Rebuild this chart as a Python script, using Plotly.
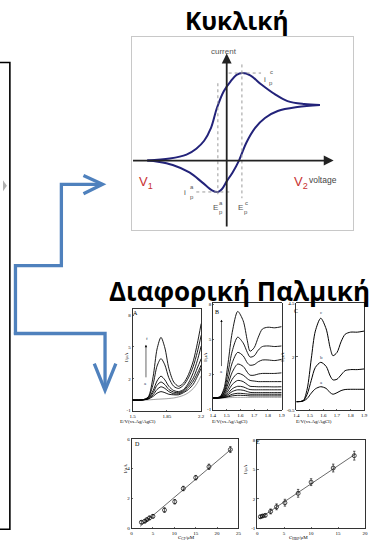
import plotly.graph_objects as go
import numpy as np

W, H = 372, 553

def px(x):
    return x / W

def py(y):
    return 1 - y / H

# ---------------- Cyclic voltammogram (arbitrary units) ----------------
cv_fwd_E = [-0.81, -0.58, -0.41, -0.31, -0.23, -0.16, -0.10, -0.03, 0.04, 0.10, 0.16, 0.24, 0.35, 0.49, 0.62, 0.79, 0.95]
cv_fwd_I = [0.00, 0.02, 0.06, 0.12, 0.20, 0.33, 0.53, 0.70, 0.80, 0.865, 0.883, 0.86, 0.77, 0.67, 0.60, 0.57, 0.56]
cv_rev_E = [0.95, 0.72, 0.52, 0.39, 0.29, 0.20, 0.125, 0.06, 0.00, -0.05, -0.09, -0.15, -0.25, -0.38, -0.55, -0.70, -0.81]
cv_rev_I = [0.56, 0.54, 0.50, 0.43, 0.33, 0.18, 0.00, -0.12, -0.21, -0.29, -0.317, -0.30, -0.22, -0.12, -0.045, -0.012, 0.00]
cv_Epa, cv_Epc = -0.09, 0.155
cv_ipa, cv_ipc = -0.317, 0.883

# ---------------- DPV panel A ----------------
A_E = [1.50, 1.60, 1.66, 1.71, 1.75, 1.79, 1.83, 1.87, 1.92, 1.97, 2.02, 2.07, 2.12, 2.16, 2.20]
A_f = [0, 0.02, 0.30, 2.2, 4.8, 5.9, 4.9, 3.0, 1.7, 1.3, 1.6, 2.4, 3.7, 5.3, 7.2]
A_e = [0, 0.02, 0.25, 1.5, 3.2, 3.9, 3.3, 2.1, 1.3, 1.1, 1.4, 2.1, 3.2, 4.5, 6.1]
A_d = [0, 0.02, 0.20, 0.9, 1.8, 2.25, 1.9, 1.3, 0.9, 0.8, 1.0, 1.6, 2.6, 3.7, 5.1]
A_c = [0, 0.02, 0.15, 0.7, 1.4, 1.7, 1.45, 1.0, 0.75, 0.7, 0.9, 1.4, 2.1, 3.0, 3.9]
A_b = [0, 0.02, 0.12, 0.5, 1.0, 1.25, 1.1, 0.8, 0.6, 0.6, 0.8, 1.2, 1.8, 2.5, 3.3]
A_a = [0, 0.02, 0.10, 0.35, 0.65, 0.8, 0.7, 0.55, 0.5, 0.5, 0.7, 1.0, 1.5, 2.2, 3.0]
A_blank = [0, 0, 0.02, 0.05, 0.08, 0.10, 0.12, 0.15, 0.2, 0.3, 0.45, 0.7, 1.1, 1.6, 2.3]

# ---------------- DPV panel B ----------------
B_E = [1.40, 1.45, 1.48, 1.51, 1.54, 1.58, 1.62, 1.65, 1.67, 1.70, 1.73, 1.76, 1.80, 1.85, 1.90]
B_1 = [0.0, 0.10, 0.8, 3.0, 5.6, 7.4, 6.6, 4.9, 4.0, 4.3, 5.2, 5.9, 6.05, 6.0, 6.1]
B_2 = [0.0, 0.08, 0.6, 2.2, 4.0, 5.2, 4.7, 3.9, 3.5, 3.6, 4.1, 4.4, 4.45, 4.4, 4.45]
B_3 = [0.0, 0.06, 0.45, 1.6, 3.0, 3.9, 3.6, 3.0, 2.8, 2.85, 3.1, 3.25, 3.25, 3.2, 3.3]
B_4 = [0.0, 0.05, 0.35, 1.2, 2.2, 2.9, 2.7, 2.2, 1.95, 1.95, 2.05, 2.1, 2.1, 2.1, 2.15]
B_5 = [0.0, 0.04, 0.25, 0.85, 1.6, 2.1, 1.95, 1.65, 1.5, 1.45, 1.4, 1.4, 1.4, 1.4, 1.4]
B_6 = [0.0, 0.03, 0.18, 0.6, 1.15, 1.5, 1.4, 1.15, 1.0, 0.98, 0.96, 0.96, 0.96, 0.95, 0.96]
B_7 = [0.0, 0.02, 0.12, 0.4, 0.78, 1.0, 0.95, 0.8, 0.72, 0.7, 0.7, 0.7, 0.7, 0.7, 0.7]
B_8 = [0.0, 0.02, 0.08, 0.28, 0.55, 0.7, 0.66, 0.55, 0.48, 0.46, 0.46, 0.46, 0.46, 0.46, 0.46]
B_9 = [0.0, 0.01, 0.05, 0.16, 0.32, 0.4, 0.38, 0.34, 0.32, 0.32, 0.32, 0.32, 0.32, 0.32, 0.32]
B_10 = [0.0, 0.01, 0.03, 0.10, 0.18, 0.23, 0.22, 0.20, 0.18, 0.18, 0.18, 0.18, 0.18, 0.18, 0.18]
B_blank = [0.0, 0.0, 0.01, 0.02, 0.04, 0.05, 0.05, 0.05, 0.05, 0.05, 0.05, 0.05, 0.05, 0.05, 0.05]

# ---------------- DPV panel C ----------------
C_E = B_E
C_c = [-0.1, -0.05, 0.5, 1.9, 3.2, 3.8, 3.3, 2.4, 2.05, 2.2, 2.7, 3.05, 3.15, 3.15, 3.2]
C_b = [-0.1, -0.06, 0.25, 0.9, 1.5, 1.74, 1.55, 1.1, 0.92, 0.95, 1.15, 1.35, 1.4, 1.4, 1.43]
C_a = [-0.1, -0.07, 0.05, 0.3, 0.5, 0.6, 0.52, 0.32, 0.25, 0.32, 0.42, 0.47, 0.48, 0.48, 0.48]

# ---------------- Calibration D ----------------
D_conc = [2.3, 3.1, 3.6, 4.2, 5.0, 7.7, 10.1, 12.1, 15.0, 18.1, 23.1]
D_I = [0.40, 0.47, 0.58, 0.69, 0.80, 1.22, 1.78, 2.67, 3.40, 4.13, 5.29]
D_err = [0.10, 0.10, 0.10, 0.12, 0.12, 0.15, 0.15, 0.15, 0.15, 0.18, 0.2]

# ---------------- Calibration E ----------------
E_conc = [0.6, 1.0, 1.5, 2.5, 3.6, 5.15, 7.6, 10.0, 14.1, 18.0]
E_I = [0.17, 0.24, 0.31, 0.71, 1.18, 1.6, 2.56, 3.7, 5.14, 6.4]
E_err = [0.15, 0.15, 0.15, 0.25, 0.3, 0.35, 0.4, 0.35, 0.4, 0.45]

fig = go.Figure()
NAVY = "#23237a"

# CV
fig.add_trace(go.Scatter(x=cv_fwd_E, y=cv_fwd_I, mode="lines", line=dict(color=NAVY, width=2, shape="spline"), xaxis="x", yaxis="y"))
fig.add_trace(go.Scatter(x=cv_rev_E, y=cv_rev_I, mode="lines", line=dict(color=NAVY, width=2, shape="spline"), xaxis="x", yaxis="y"))
dot = dict(color="#9a9a9a", width=1, dash="dot")
fig.add_trace(go.Scatter(x=[cv_Epa, cv_Epa], y=[0.78, -0.36], mode="lines", line=dot, xaxis="x", yaxis="y"))
fig.add_trace(go.Scatter(x=[cv_Epc, cv_Epc], y=[0.97, -0.38], mode="lines", line=dot, xaxis="x", yaxis="y"))
fig.add_trace(go.Scatter(x=[0.02, 0.35], y=[cv_ipc, cv_ipc], mode="lines", line=dot, xaxis="x", yaxis="y"))
fig.add_trace(go.Scatter(x=[-0.31, 0.03], y=[cv_ipa, cv_ipa], mode="lines", line=dot, xaxis="x", yaxis="y"))

def lines(xs, ys_list, ax, color="black", width=0.9):
    for ys in ys_list:
        fig.add_trace(go.Scatter(x=xs, y=ys, mode="lines", line=dict(color=color, width=width, shape="spline", smoothing=0.8),
                                 xaxis="x" + ax, yaxis="y" + ax))

lines(A_E, [A_blank], "2", color="#777", width=0.7)
lines(A_E, [A_a, A_b, A_c, A_d, A_e, A_f], "2")
lines(B_E, [B_blank], "3", color="#888", width=0.7)
lines(B_E, [B_10, B_9, B_8, B_7, B_6, B_5, B_4, B_3, B_2, B_1], "3")
lines(C_E, [C_a, C_b, C_c], "4", width=1.0)

for xs, ys, err, ax in [(D_conc, D_I, D_err, "5"), (E_conc, E_I, E_err, "6")]:
    k, b = np.polyfit(xs, ys, 1)
    fx = [min(xs) - 0.3, max(xs) + 0.2]
    fig.add_trace(go.Scatter(x=fx, y=[k * v + b for v in fx], mode="lines", line=dict(color="#444", width=0.8),
                             xaxis="x" + ax, yaxis="y" + ax))
    fig.add_trace(go.Scatter(x=xs, y=ys, mode="markers",
                             marker=dict(symbol="circle-open", size=4, color="black", line=dict(width=0.7)),
                             error_y=dict(type="data", array=err, color="black", thickness=0.6, width=1.2),
                             xaxis="x" + ax, yaxis="y" + ax))

# axes domains (pixel boxes)
boxes = {
    "": (131, 357, 35, 230),
    "2": (132, 202, 310, 413),
    "3": (214, 284, 304, 412),
    "4": (299, 368, 304, 412),
    "5": (131, 240, 441, 531),
    "6": (259, 369, 442, 531),
}
ranges = {
    "": ([-0.97, 1.29], [-0.70, 1.25]),
    "2": ([1.5, 2.2], [-1.05, 8.55]),
    "3": ([1.4, 1.9], [-1.05, 8.1]),
    "4": ([1.4, 1.9], [-0.5, 4.5]),
    "5": ([0, 25], [0, 6]),
    "6": ([0, 20], [-1, 8]),
}
xticks = {
    "2": [1.5, 1.85, 2.2],
    "3": [1.4, 1.5, 1.6, 1.7, 1.8, 1.9],
    "4": [1.4, 1.5, 1.6, 1.7, 1.8, 1.9],
    "5": [0, 5, 10, 15, 20, 25],
    "6": [0, 5, 10, 15, 20],
}
yticks = {
    "2": [-1, 2, 5, 8],
    "3": [-1, 2, 5, 8],
    "4": [-0.5, 2, 4.5],
    "5": [0, 2, 4, 6],
    "6": [-1, 2, 5, 8],
}
tickfont = dict(family="Liberation Serif", size=5, color="black")
layout = {}
for k, (x0, x1, y0, y1) in boxes.items():
    xr, yr = ranges[k]
    xa = dict(domain=[px(x0), px(x1)], range=xr, anchor="y" + k, showgrid=False, zeroline=False, fixedrange=True)
    ya = dict(domain=[py(y1), py(y0)], range=yr, anchor="x" + k, showgrid=False, zeroline=False, fixedrange=True)
    if k == "":
        for a in (xa, ya):
            a.update(showline=True, mirror=True, linecolor="#c8c8c8", linewidth=1, showticklabels=False, ticks="")
    else:
        for a, tv in ((xa, xticks[k]), (ya, yticks[k])):
            a.update(showline=True, mirror=True, linecolor="black", linewidth=0.8, ticks="inside", ticklen=1.5,
                     tickwidth=0.6, tickcolor="black", tickvals=tv, ticktext=[("%g" % v) for v in tv],
                     tickfont=tickfont)
    layout["xaxis" + k] = xa
    layout["yaxis" + k] = ya

fig.update_layout(**layout)
fig.update_layout(width=W, height=H, margin=dict(l=0, r=0, t=0, b=0), showlegend=False,
                  paper_bgcolor="white", plot_bgcolor="white")

ann = []
def A(**kw):
    ann.append(kw)

# CV axes arrows
A(x=0, y=1.08, ax=0, ay=-0.68, xref="x", yref="y", axref="x", ayref="y", text="", showarrow=True,
  arrowhead=2, arrowsize=1.1, arrowwidth=1.8, arrowcolor="#222")
A(x=1.09, y=0, ax=-0.97, ay=0, xref="x", yref="y", axref="x", ayref="y", text="", showarrow=True,
  arrowhead=2, arrowsize=1.1, arrowwidth=1.8, arrowcolor="#222")
gl = dict(family="Liberation Sans", size=8, color="#555")
A(x=px(225), y=py(43), xref="paper", yref="paper", text="current", showarrow=False, font=gl)
A(x=px(342), y=py(173), xref="paper", yref="paper", text="voltage", showarrow=False, font=dict(family="Liberation Sans", size=8.5, color="#444"))
red = dict(family="Liberation Sans", size=13, color="#c83232")
A(x=px(146), y=py(172), xref="paper", yref="paper", text="V<sub>1</sub>", showarrow=False, font=red)
A(x=px(313), y=py(172), xref="paper", yref="paper", text="V<sub>2</sub>", showarrow=False, font=red)
sm = dict(family="Liberation Sans", size=6, color="#555")
for (tx, ty, t, f) in [(270, 72, "i", gl), (277, 66, "c", sm), (277, 77, "p", sm),
                       (185, 192, "i", gl), (193, 187, "a", sm), (193, 197, "p", sm),
                       (217, 207, "E", gl), (222.5, 203, "a", sm), (222, 212, "p", sm),
                       (242.5, 207, "E", gl), (248, 203, "c", sm), (247.5, 212, "p", sm)]:
    A(x=px(tx), y=py(ty), xref="paper", yref="paper", text=t, showarrow=False, font=f)

# titles
A(x=px(238), y=py(19), xref="paper", yref="paper", yanchor="middle", text="Κυκλική", showarrow=False,
  font=dict(family="Open Sans", size=24.5, color="black", weight="bold"))
A(x=px(106), y=py(292), xref="paper", yref="paper", yanchor="middle", text="Διαφορική Παλμική", showarrow=False,
  font=dict(family="Open Sans", size=26, color="black", weight="bold"), xanchor="left")

# panel letters
pl = dict(family="Liberation Serif", size=6, color="black")
A(x=px(135), y=py(314), xref="paper", yref="paper", text="A", showarrow=False, font=pl)
A(x=px(218), y=py(313), xref="paper", yref="paper", text="B", showarrow=False, font=pl)
A(x=px(303), y=py(312), xref="paper", yref="paper", text="C", showarrow=False, font=pl)
A(x=px(137), y=py(451), xref="paper", yref="paper", text="D", showarrow=False, font=pl)
A(x=px(264), y=py(449), xref="paper", yref="paper", text="E", showarrow=False, font=pl)

# panel arrows and curve letters
A(x=1.637, y=5.2, ax=1.637, ay=2.0, xref="x2", yref="y2", axref="x2", ayref="y2", text="", showarrow=True,
  arrowhead=2, arrowsize=0.8, arrowwidth=0.6, arrowcolor="black")
A(x=1.645, y=5.75, xref="x2", yref="y2", text="f", showarrow=False, font=dict(family="Liberation Serif", size=5))
A(x=1.637, y=1.6, xref="x2", yref="y2", text="a", showarrow=False, font=dict(family="Liberation Serif", size=5))
A(x=1.462, y=6.7, ax=1.462, ay=2.6, xref="x3", yref="y3", axref="x3", ayref="y3", text="", showarrow=True,
  arrowhead=2, arrowsize=0.8, arrowwidth=0.6, arrowcolor="black")
A(x=1.465, y=2.3, xref="x3", yref="y3", text="a", showarrow=False, font=dict(family="Liberation Serif", size=5))
for (t, yy) in [("c", 4.05), ("b", 1.98), ("a", 0.8)]:
    A(x=1.585, y=yy, xref="x4", yref="y4", text=t, showarrow=False, font=dict(family="Liberation Serif", size=5))

# axis titles
at = dict(family="Liberation Serif", size=5, color="black")
for (tx, ty) in [(122, 358), (207, 358), (290, 358), (120.5, 478), (251.5, 478)]:
    A(x=px(tx), y=py(ty), xref="paper", yref="paper", text="I/μA", textangle=-90, showarrow=False, font=at)
for tx in [138, 252, 337]:
    A(x=px(tx), y=py(428), xref="paper", yref="paper", text="E/V(vs.Ag/AgCl)", showarrow=False, font=at)
A(x=px(187), y=py(546), xref="paper", yref="paper", text="C<sub>CF</sub>/μM", showarrow=False, font=at)
A(x=px(313), y=py(546), xref="paper", yref="paper", text="C<sub>HBP</sub>/μM", showarrow=False, font=at)

fig.update_layout(annotations=ann)

# decorative shapes: left box, grey chevron, blue connectors
shapes = []
shapes.append(dict(type="rect", xref="paper", yref="paper", x0=px(-10), x1=px(7), y0=py(532), y1=py(61),
                   line=dict(color="black", width=1.6)))
shapes.append(dict(type="path", xref="paper", yref="paper",
                   path="M %f %f L %f %f L %f %f Z" % (px(0), py(180), px(4), py(185.5), px(0), py(191)),
                   fillcolor="#b0b0b0", line=dict(width=0)))
BLUE = "#4f81bd"
def poly(pts):
    d = "M " + " L ".join("%f %f" % (px(a), py(b)) for a, b in pts)
    shapes.append(dict(type="path", xref="paper", yref="paper", path=d, line=dict(color=BLUE, width=3.3)))
poly([(12.7, 335.5), (12.7, 266), (59.5, 266), (59.5, 184), (100, 184)])
poly([(82, 175), (101.5, 184), (82, 193.5)])
poly([(11.1, 334.5), (104, 334.5), (104, 391)])
poly([(93, 365), (104, 392), (115, 365)])
fig.update_layout(shapes=shapes)

fig.write_html("out.html", config={"displayModeBar": False, "staticPlot": True},
               post_script="document.body.style.margin='0';document.body.style.overflow='hidden';")
